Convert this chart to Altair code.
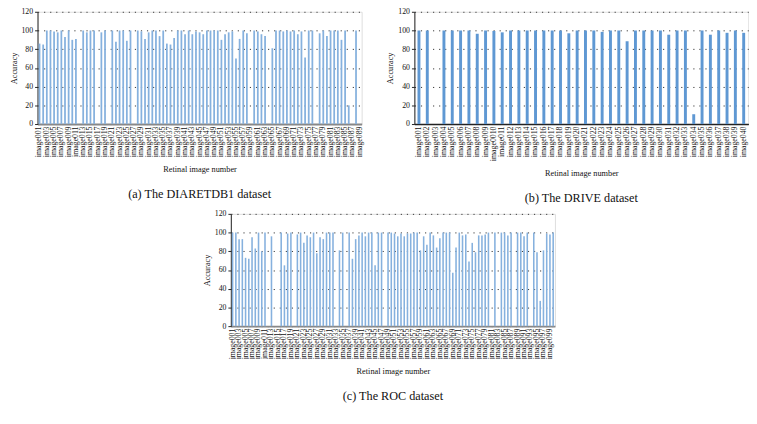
import altair as alt
import pandas as pd

# ---------------- data ----------------
diaretdb1_images = [f"image{i:03d}" for i in range(1, 90)]
diaretdb1_acc = [86, 85, 100, 100, 99, 98, 100, 93, 100, 90,
                 91, 0, 100, 98, 100, 100, 0, 98, 100, 0,
                 100, 88, 100, 100, 89, 100, 0, 100, 99, 91,
                 98, 100, 100, 94, 100, 86, 85, 92, 100, 100,
                 96, 100, 96, 99, 98, 96, 100, 100, 100, 100,
                 90, 96, 98, 99, 70, 91, 100, 97, 0, 100,
                 99, 96, 94, 0, 81, 100, 100, 99, 100, 99,
                 100, 96, 99, 71, 100, 100, 0, 97, 100, 94,
                 100, 100, 100, 90, 100, 20, 0, 100, 0]

drive_images = ["image001", "image002", "image003", "image004", "image005",
                "image006", "image007", "image008", "image009", "image0010",
                "image011", "image012", "image013", "image014", "image015",
                "image016", "image017", "image018", "image019", "image020",
                "image021", "image022", "image023", "image024", "image025",
                "image026", "image027", "image028", "image029", "image030",
                "image031", "image032", "image033", "image034", "image035",
                "image036", "image037", "image038", "image039", "image040"]
drive_acc = [100, 100, 0, 100, 100, 100, 100, 96.5, 100, 99.5,
             98, 100, 100, 100, 100, 100, 100, 100, 97, 100,
             100, 100, 98.5, 100, 100, 88.5, 100, 100, 100, 100,
             95.5, 100, 100, 10.5, 100, 95.5, 100, 97.5, 100, 97.5]

roc_images = [f"image{i:03d}" for i in range(1, 101)]
roc_acc = [100, 100, 93, 93, 73, 72, 95, 83, 100, 80,
           100, 0, 96, 0, 0, 100, 65, 99, 100, 0,
           98, 100, 89, 97, 95, 100, 78, 95, 93, 100,
           100, 100, 0, 81, 100, 0, 100, 72, 93, 97,
           100, 96, 100, 100, 65, 100, 100, 0, 100, 100,
           99, 96, 99, 96, 99, 99, 100, 100, 81, 96,
           87, 100, 97, 84, 94, 100, 100, 100, 57, 84,
           100, 97, 98, 69, 89, 79, 97, 97, 98, 100,
           0, 100, 0, 100, 100, 97, 100, 0, 100, 100,
           96, 100, 0, 100, 79, 27, 81, 99, 98, 100]

y_ticks = [0, 20, 40, 60, 80, 100, 120]
captions = ["(a)  The DIARETDB1 dataset", "(b)  The DRIVE dataset", "(c)  The ROC dataset"]

SERIF = "Liberation Serif"


def panel(images, acc, shown, width, height, color, bar_w, caption, domain_color, domain_w):
    df = pd.DataFrame({"img": images, "acc": acc})
    return alt.Chart(df).mark_bar(color=color, width=bar_w).encode(
        x=alt.X("img:N", sort=None,
                scale=alt.Scale(paddingOuter=0.2, paddingInner=0.3),
                axis=alt.Axis(values=shown, title="Retinal image number",
                              labelAngle=270, labelFontSize=8, labelPadding=2,
                              labelFont=SERIF, titleFont=SERIF,
                              labelColor="#111", titleColor="#111",
                              ticks=False, domainColor=domain_color, domainWidth=domain_w,
                              titlePadding=8, titleFontSize=8.5, titleFontWeight="normal",
                              labelOverlap=False)),
        y=alt.Y("acc:Q", scale=alt.Scale(domain=[0, 120], nice=False),
                axis=alt.Axis(values=y_ticks, title="Accuracy", grid=True,
                              gridDash=[1.2, 5], gridColor="#333", gridWidth=1,
                              tickSize=3, tickColor="#222", domainColor="#222",
                              labelFont=SERIF, titleFont=SERIF,
                              labelColor="#111", titleColor="#111",
                              labelFontSize=8, labelPadding=2, titlePadding=3,
                              titleFontSize=8.5, titleFontWeight="normal")),
    ).properties(
        width=width, height=height,
        title=alt.TitleParams(caption, orient="bottom", fontSize=12.5, font=SERIF,
                              fontWeight="normal", offset=16, anchor="middle", color="#111"),
    )


pa = panel(diaretdb1_images, diaretdb1_acc, diaretdb1_images[::2], 332, 115,
           "#86b1de", 1.8, captions[0], "#888", 2)
pb = panel(drive_images, drive_acc, drive_images, 342, 115,
           "#5f98d3", 3, captions[1], "#222", 1.5)
pc = panel(roc_images, roc_acc, roc_images[::2], 332, 115,
           "#86b1de", 1.6, captions[2], "#888", 2)

top = alt.hconcat(pa, pb, spacing=22)
chart = alt.vconcat(top, pc, spacing=3, center=True).properties(
    padding={"left": 0, "top": -6, "right": 0, "bottom": 0}
).configure_view(stroke=None).configure(background="white")

chart.save("out.html", embed_options={"renderer": "svg", "actions": False})
